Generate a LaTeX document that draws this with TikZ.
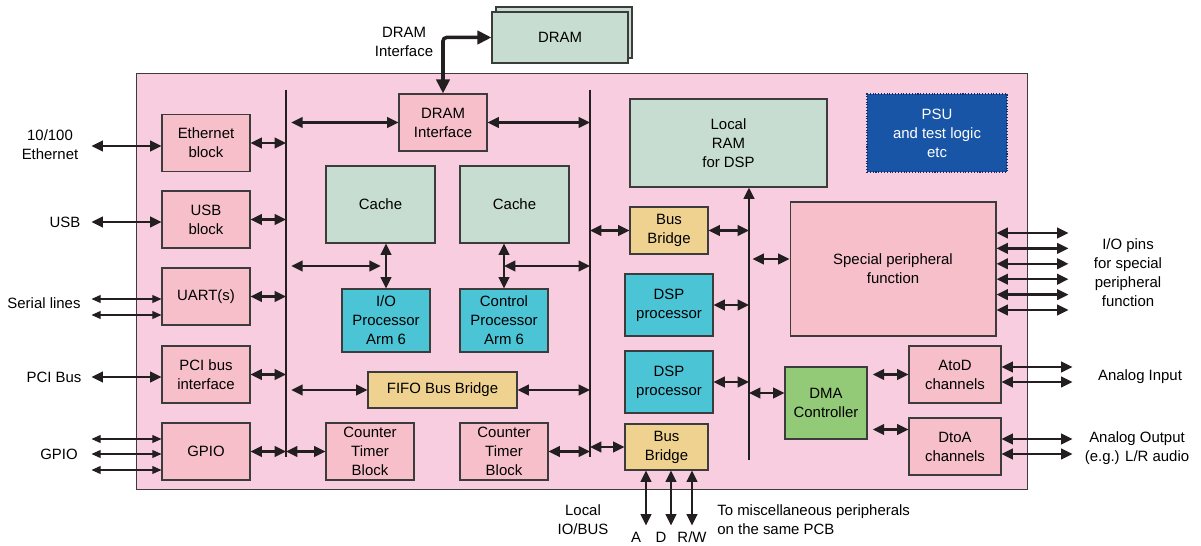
\documentclass[tikz,border=0pt]{standalone}
\usepackage{fontspec}
\setmainfont{Liberation Sans}
\usepackage{tikz}
\usetikzlibrary{arrows.meta,calc}

\definecolor{chippink}{HTML}{F8CDE0}
\definecolor{boxpink}{HTML}{F7BFCA}
\definecolor{sage}{HTML}{C8DDD1}
\definecolor{dspcyan}{HTML}{4BC4D6}
\definecolor{bridgetan}{HTML}{EFD28F}
\definecolor{dmagreen}{HTML}{93CA78}
\definecolor{psublue}{HTML}{1955A6}
\definecolor{psuedge}{HTML}{0D2F66}
\definecolor{boxline}{HTML}{3C3C3C}
\definecolor{wire}{HTML}{231F20}

\begin{document}
\begin{tikzpicture}[x=0.02cm,y=-0.02cm,
	font=\fontsize{8.5}{10.8}\selectfont,
	box/.style={draw=boxline,line width=0.6pt,inner sep=0pt,align=center,
		minimum width=1.76cm,minimum height=1.14cm},
	pink box/.style={box,fill=boxpink},
	sage box/.style={box,fill=sage},
	cpu box/.style={box,fill=dspcyan},
	bridge box/.style={box,fill=bridgetan},
	text node/.style={align=center,inner sep=0pt},
	bus/.style={line width=1.6pt,color=wire},
	link/.style={{Triangle[length=6.5pt,width=6pt]}-{Triangle[length=6.5pt,width=6pt]},
		line width=1.4pt,color=wire},
	thin link/.style={{Triangle[length=5.2pt,width=4.5pt]}-{Triangle[length=5.2pt,width=4.5pt]},
		line width=0.6pt,color=wire}]
	
	\useasboundingbox (0,0) rectangle (1201,546);
	
	\node[draw=boxline,fill=chippink,line width=0.6pt,inner sep=0pt,
		minimum width=17.84cm,minimum height=8.34cm] (chip) at (582,281.5) {};
	
	\node[sage box,minimum width=2.72cm,minimum height=1.02cm] (dramback) at (564,32.5) {};
	\node[sage box,minimum width=2.72cm,minimum height=1.02cm] (dram) at (560,37.5) {DRAM};
	
	\node[pink box] (eth) at (206,143) {Ethernet\\block};
	\node[pink box] (usb) at (206,219.5) {USB\\block};
	\node[pink box] (uart) at (206,296.5) {UART(s)};
	\node[pink box] (pci) at (206,374.5) {PCI bus\\interface};
	\node[pink box] (gpio) at (206,451.5) {GPIO};
	
	\node[pink box] (dramif) at (443,122.5) {DRAM\\Interface};
	\node[sage box,minimum width=2.18cm,minimum height=1.54cm] (cache1) at (380.5,204.5) {Cache};
	\node[sage box,minimum width=2.18cm,minimum height=1.54cm] (cache2) at (514.5,204.5) {Cache};
	\node[cpu box,minimum height=1.26cm] (iop) at (386,320.5) {I/O\\Processor\\Arm 6};
	\node[cpu box,minimum height=1.26cm] (ctrlp) at (504,320.5) {Control\\Processor\\Arm 6};
	\node[bridge box,minimum width=2.98cm,minimum height=0.72cm] (fifo) at (442.5,390) {FIFO Bus Bridge};
	\node[pink box] (ct1) at (370,451.5) {Counter\\Timer\\Block};
	\node[pink box] (ct2) at (504,451.5) {Counter\\Timer\\Block};
	
	\node[sage box,minimum width=3.94cm,minimum height=1.76cm] (localram) at (728.5,143) {Local\\RAM\\for DSP};
	\node[box,fill=psublue,draw=psuedge,densely dotted,text=white,
		minimum width=2.8cm,minimum height=1.56cm] (psu) at (937,133) {PSU\\and test logic\\etc};
	\node[bridge box,minimum width=1.56cm,minimum height=0.94cm] (bb1) at (669,230.5) {Bus\\Bridge};
	\node[pink box,minimum width=4.12cm,minimum height=2.68cm] (spf) at (893,269) {Special peripheral\\function};
	\node[cpu box,minimum height=1.24cm] (dsp1) at (669,305) {DSP\\processor};
	\node[cpu box,minimum height=1.24cm] (dsp2) at (669,382) {DSP\\processor};
	\node[bridge box,minimum width=1.66cm,minimum height=0.92cm] (bb2) at (666.5,447) {Bus\\Bridge};
	\node[box,fill=dmagreen,minimum width=1.64cm,minimum height=1.44cm] (dma) at (826,403) {DMA\\Controller};
	\node[pink box,minimum width=1.84cm] (atod) at (955,374.5) {AtoD\\channels};
	\node[pink box,minimum width=1.84cm] (dtoa) at (955,446.5) {DtoA\\channels};
	
	\node[text node] (ethlbl) at (50,145) {10/100\\Ethernet};
	\node[text node] (usblbl) at (65,222) {USB};
	\node[text node] (seriallbl) at (44,303) {Serial lines};
	\node[text node] (pcilbl) at (54,377) {PCI Bus};
	\node[text node] (gpiolbl) at (59,454) {GPIO};
	\node[text node] (dramlbl) at (404,42) {DRAM\\Interface};
	\node[text node] (iolbl) at (1128,272.5) {I/O pins\\for special\\peripheral\\function};
	\node[text node] (ainlbl) at (1140,377) {Analog Input};
	\node[text node] (aoutlbl) at (1137,448) {Analog Output\\(e.g.) L/R audio};
	\node[text node] (locallbl) at (583,520) {Local\\IO/BUS};
	\node[text node] (albl) at (636,537) {A};
	\node[text node] (dlbl) at (661,537) {D};
	\node[text node] (rwlbl) at (692,537) {R/W};
	\node[text node,anchor=west,align=left] (misclbl) at (717,520) {To miscellaneous peripherals\\on the same PCB};
	
	\coordinate (lbtop) at (286,90);
	\coordinate (lbbot) at (286,457);
	\coordinate (mbtop) at (590,90);
	\coordinate (mbbot) at (590,457);
	\coordinate (dbbot) at (749,460);
	\coordinate (iomid) at ($(iop.north)!0.5!(iop.north |- cache1.south)$);
	\coordinate (ctrlmid) at ($(ctrlp.north)!0.5!(ctrlp.north |- cache2.south)$);
	\coordinate (spfin) at ($(spf.west)+(0,-10)$);
	\coordinate (dmain) at ($(dma.west)+(0,-10)$);
	\coordinate (dtoain) at ($(dtoa.west)+(0,-17)$);
	
	\draw[bus] (lbtop) -- (lbbot);
	\draw[bus] (mbtop) -- (mbbot);
	\draw[bus,-{Triangle[length=6.5pt,width=6pt]}] (dbbot) -- (dbbot |- localram.south);
	
	\draw[link,line width=2pt,rounded corners=2pt,
		{Triangle[length=8pt,width=7.5pt]}-{Triangle[length=8pt,width=7.5pt]}] (dram.west) -| (dramif.north);
	
	\path[link]
	(eth.east) edge (eth.east -| lbtop)
	(usb.east) edge (usb.east -| lbtop)
	(uart.east) edge (uart.east -| lbtop)
	(pci.east) edge (pci.east -| lbtop)
	(gpio.east) edge (gpio.east -| lbtop)
	(ct1.west -| lbtop) edge (ct1.west)
	(dramif.west -| lbtop) edge [shorten <=3pt] (dramif.west)
	(dramif.east) edge (dramif.east -| mbtop)
	(iop.north) edge (iop.north |- cache1.south)
	(ctrlp.north) edge (ctrlp.north |- cache2.south)
	(iomid -| lbtop) edge [shorten <=3pt,shorten >=3pt] (iomid)
	(ctrlmid) edge (ctrlmid -| mbtop)
	(fifo.west -| lbtop) edge [shorten <=3pt] (fifo.west)
	(fifo.east) edge (fifo.east -| mbtop)
	(ct2.east) edge (ct2.east -| mbtop)
	(bb2.west -| mbtop) edge (bb2.west)
	(bb1.west -| mbtop) edge (bb1.west)
	(bb1.east) edge (bb1.east -| dbbot)
	(dsp1.east) edge (dsp1.east -| dbbot)
	(dsp2.east) edge (dsp2.east -| dbbot)
	(spfin -| dbbot) edge [shorten <=2pt] (spfin)
	(dmain -| dbbot) edge (dmain)
	(atod.west -| dma.east) edge [shorten <=3pt] (atod.west)
	(dtoain -| dma.east) edge [shorten <=3pt] (dtoain);
	
	\draw[link] ($(eth.west)+(0,3)$) -- ++(-70,0);
	\draw[link] ($(usb.west)+(0,2.5)$) -- ++(-70,0);
	\draw[link] ($(pci.west)+(0,2.5)$) -- ++(-70,0);
	\foreach \dy in {2.5,18.5}
		\draw[thin link] ($(uart.west)+(0,\dy)$) -- ++(-70,0);
	\foreach \dy in {-12.5,2.5,18.5}
		\draw[thin link] ($(gpio.west)+(0,\dy)$) -- ++(-70,0);
	\foreach \dy in {-36,-20.6,-5.2,10.2,25.6,41}
		\draw[link] ($(spf.east)+(0,\dy)$) -- ++(72,0);
	\foreach \dy in {-7.5,7.5} {
		\draw[link] ($(atod.east)+(0,\dy)$) -- ++(71,0);
		\draw[link] ($(dtoa.east)+(0,\dy)$) -- ++(71,0);
	}
	\foreach \dx in {-20.5,4.5,25.5}
		\draw[link] ($(bb2.south)+(\dx,0)$) -- ++(0,55);
	
\end{tikzpicture}
\end{document}
